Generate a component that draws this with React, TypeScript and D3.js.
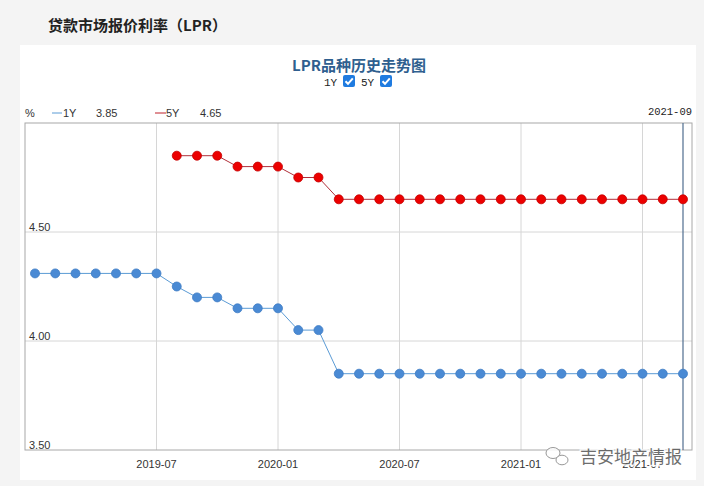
import * as d3 from "d3";

const months = [
  "2019-01", "2019-02", "2019-03", "2019-04", "2019-05", "2019-06", "2019-07", "2019-08", "2019-09", "2019-10", "2019-11", "2019-12",
  "2020-01", "2020-02", "2020-03", "2020-04", "2020-05", "2020-06", "2020-07", "2020-08", "2020-09", "2020-10", "2020-11", "2020-12",
  "2021-01", "2021-02", "2021-03", "2021-04", "2021-05", "2021-06", "2021-07", "2021-08", "2021-09",
];

const lpr1Y = [
  4.31, 4.31, 4.31, 4.31, 4.31, 4.31, 4.31, 4.25, 4.2, 4.2, 4.15, 4.15,
  4.15, 4.05, 4.05, 3.85, 3.85, 3.85, 3.85, 3.85, 3.85, 3.85, 3.85, 3.85,
  3.85, 3.85, 3.85, 3.85, 3.85, 3.85, 3.85, 3.85, 3.85,
];

const lpr5Y: (number | null)[] = [
  null, null, null, null, null, null, null, 4.85, 4.85, 4.85, 4.8, 4.8,
  4.8, 4.75, 4.75, 4.65, 4.65, 4.65, 4.65, 4.65, 4.65, 4.65, 4.65, 4.65,
  4.65, 4.65, 4.65, 4.65, 4.65, 4.65, 4.65, 4.65, 4.65,
];

const xTicks = ["2019-07", "2020-01", "2020-07", "2021-01", "2021-07"];
const yTicks = [3.5, 4.0, 4.5];
const current = "2021-09";

const plot = { left: 25, right: 692, top: 123, bottom: 450 };

export default function App() {
  const x = d3.scalePoint<string>().domain(months).range([35, 683]);
  const y = d3.scaleLinear().domain([3.5, 5.0]).range([plot.bottom, plot.top]);

  const line = d3
    .line<number | null>()
    .defined((d) => d !== null)
    .x((_, i) => x(months[i])!)
    .y((d) => y(d as number));

  const sans = "'Liberation Sans', Arial, sans-serif";
  const cjk = "'Noto Sans CJK SC', sans-serif";
  const mono = "'Liberation Mono', monospace";

  const checkbox = (cx: number, cy: number) => (
    <g transform={`translate(${cx},${cy})`}>
      <rect x={0} y={0} width={12} height={12} rx={2} fill="#1f7be0" />
      <path d="M2.5,6.2 L5,8.8 L9.8,3.3" fill="none" stroke="#fff" strokeWidth={2} />
    </g>
  );

  return (
    <svg width={704} height={486} style={{ position: "absolute", left: 0, top: 0 }}>
      <rect width={704} height={486} fill="#f4f4f4" />
      <rect x={20} y={45} width={676} height={435} fill="#fff" />

      {/* page heading */}
      <text x={48} y={31} fontFamily={cjk} fontSize={15} fontWeight="bold" fill="#222">
        贷款市场报价利率（LPR）
      </text>

      {/* chart title */}
      <text x={359} y={71} textAnchor="middle" fontFamily={cjk} fontSize={15} fontWeight="bold" fill="#2f5f8f">
        LPR品种历史走势图
      </text>
      <text x={324} y={86} fontFamily={mono} fontSize={11} fill="#222">1Y</text>
      {checkbox(343, 75)}
      <text x={361} y={86} fontFamily={mono} fontSize={11} fill="#222">5Y</text>
      {checkbox(380, 75)}

      {/* legend row */}
      <g fontFamily={sans} fontSize={11} fill="#333">
        <text x={25} y={117}>%</text>
        <line x1={52} x2={62} y1={113} y2={113} stroke="#5b9bd5" />
        <text x={63} y={117}>1Y</text>
        <text x={96} y={117}>{lpr1Y[lpr1Y.length - 1].toFixed(2)}</text>
        <line x1={155} x2={166} y1={113} y2={113} stroke="#c0202a" />
        <text x={166} y={117}>5Y</text>
        <text x={200} y={117}>{(lpr5Y[lpr5Y.length - 1] as number).toFixed(2)}</text>
      </g>
      <text x={692} y={115} textAnchor="end" fontFamily={mono} fontSize={10.5} fill="#222">
        {current}
      </text>

      {/* grid */}
      {xTicks.map((t) => (
        <line key={t} x1={x(t)} x2={x(t)} y1={plot.top} y2={plot.bottom} stroke="#d6d6d6" />
      ))}
      {yTicks.slice(1).map((t) => (
        <line key={t} x1={plot.left} x2={plot.right} y1={y(t)} y2={y(t)} stroke="#d6d6d6" />
      ))}
      <rect
        x={plot.left}
        y={plot.top}
        width={plot.right - plot.left}
        height={plot.bottom - plot.top}
        fill="none"
        stroke="#a8a8a8"
      />

      {/* y labels */}
      {yTicks.map((t) => (
        <text key={t} x={29} y={y(t) - 1} fontFamily={sans} fontSize={11} fill="#333">
          {t.toFixed(2)}
        </text>
      ))}

      {/* x labels */}
      {xTicks.map((t) => (
        <text key={t} x={x(t)} y={468} textAnchor="middle" fontFamily={sans} fontSize={11} fill="#333">
          {t}
        </text>
      ))}

      {/* cursor line */}
      <line x1={x(current)} x2={x(current)} y1={plot.top} y2={plot.bottom} stroke="#4f6d8f" strokeWidth={1.2} />

      {/* 1Y */}
      <path d={line(lpr1Y) ?? ""} fill="none" stroke="#5b9bd5" strokeWidth={1} />
      {lpr1Y.map((v, i) => (
        <circle key={i} cx={x(months[i])} cy={y(v)} r={4.5} fill="#4a8ad4" stroke="#3f7cc4" strokeWidth={0.8} />
      ))}

      {/* 5Y */}
      <path d={line(lpr5Y) ?? ""} fill="none" stroke="#b0303a" strokeWidth={1} />
      {lpr5Y.map((v, i) =>
        v === null ? null : (
          <circle key={i} cx={x(months[i])} cy={y(v)} r={4.5} fill="#ec0000" stroke="#c40000" strokeWidth={0.8} />
        )
      )}

      {/* watermark */}
      <g opacity={0.85}>
        <ellipse cx={553} cy={453} rx={7} ry={5.5} fill="#fff" stroke="#888" strokeWidth={1} />
        <ellipse cx={562} cy={460} rx={6} ry={4.8} fill="#fff" stroke="#888" strokeWidth={1} />
        <text
          x={580}
          y={463}
          fontFamily={cjk}
          fontSize={17}
          fill="#555"
          stroke="#fff"
          strokeWidth={3}
          paintOrder="stroke"
        >
          吉安地产情报
        </text>
      </g>
    </svg>
  );
}
